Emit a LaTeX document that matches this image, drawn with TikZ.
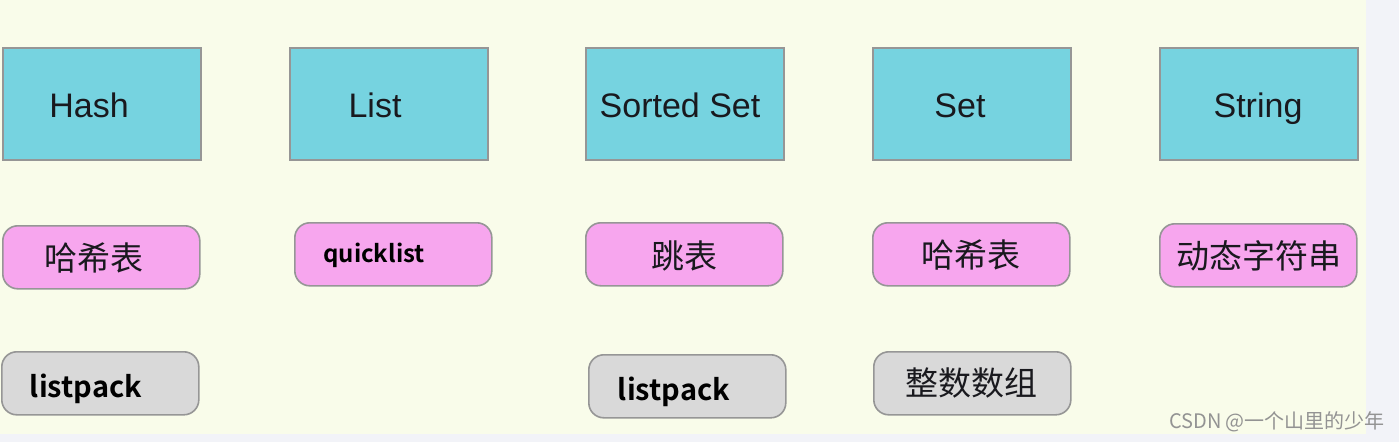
\documentclass[tikz,border=0pt]{standalone}
\usepackage{fontspec}
\setmainfont{Liberation Sans}
\newfontfamily\cjk{Noto Sans CJK SC}
\newfontfamily\cjkb{Noto Sans CJK SC}[BoldFont={* Bold}]
\definecolor{bgy}{RGB}{249,252,234}
\definecolor{bgs}{RGB}{242,243,248}
\definecolor{cyanbox}{RGB}{118,211,224}
\definecolor{pinkbox}{RGB}{247,166,238}
\definecolor{graybox}{RGB}{217,217,217}
\definecolor{edge}{RGB}{150,150,150}
\definecolor{txt}{RGB}{25,25,30}
\begin{document}
\begin{tikzpicture}[x=1pt,y=-1pt,
  typebox/.style={draw=edge,line width=1.6pt,fill=cyanbox,minimum width=198pt,minimum height=112pt,inner sep=0pt,anchor=north west},
  encpink/.style={draw=edge,line width=1.6pt,fill=pinkbox,rounded corners=15pt,minimum width=197pt,minimum height=63pt,inner sep=0pt,anchor=north west},
  encgray/.style={draw=edge,line width=1.6pt,fill=graybox,rounded corners=15pt,minimum width=197pt,minimum height=63pt,inner sep=0pt,anchor=north west},
  typelbl/.style={text=txt,font=\fontsize{34}{40}\selectfont,inner sep=0pt,anchor=base},
  cjklbl/.style={text=txt,font=\cjk\fontsize{33}{38}\selectfont,inner sep=0pt},
  boldlbl/.style={text=black,font=\cjkb\bfseries\fontsize{29}{34}\selectfont,inner sep=0pt,anchor=base},
  smallbold/.style={text=black,font=\cjkb\bfseries\fontsize{24}{28}\selectfont,inner sep=0pt,anchor=base},
  wmark/.style={text=gray!85,font=\cjk\fontsize{20}{24}\selectfont,inner sep=0pt}
]
\useasboundingbox (0,0) rectangle (1399,442);
\fill[bgs] (0,0) rectangle (1399,442);
\fill[bgy] (0,0) rectangle (1366,434);
% top row
\node[typebox] (t1) at (2,47) {};
\node[typebox] (t2) at (289,47) {};
\node[typebox] (t3) at (585,47) {};
\node[typebox] (t4) at (872,47) {};
\node[typebox] (t5) at (1159,47) {};
\node[typelbl] (l1) at (89,117) {Hash};
\node[typelbl] (l2) at (375,117) {List};
\node[typelbl] (l3) at (680,117) {Sorted Set};
\node[typelbl] (l4) at (960,117) {Set};
\node[typelbl] (l5) at (1258,117) {String};
% middle row
\node[encpink] (p1) at (2,225) {};
\node[encpink] (p2) at (294,222) {};
\node[encpink] (p3) at (585,222) {};
\node[encpink] (p4) at (872,222) {};
\node[encpink] (p5) at (1159,223) {};
\node[cjklbl] (q1) at (94,258) {哈希表};
\node[smallbold] (q2) at (374,262) {quicklist};
\node[cjklbl] (q3) at (684,256) {跳表};
\node[cjklbl] (q4) at (971,255) {哈希表};
\node[cjklbl] (q5) at (1259,256) {动态字符串};
% bottom row
\node[encgray] (g1) at (1,351) {};
\node[encgray] (g3) at (588,354) {};
\node[encgray] (g4) at (873,351) {};
\node[boldlbl] (h1) at (86,397) {listpack};
\node[boldlbl] (h3) at (674,400) {listpack};
\node[cjklbl] (h4) at (971,383) {整数数组};
% watermark
\node[wmark] (wm) at (1277,422) {CSDN @一个山里的少年};
\end{tikzpicture}
\end{document}
